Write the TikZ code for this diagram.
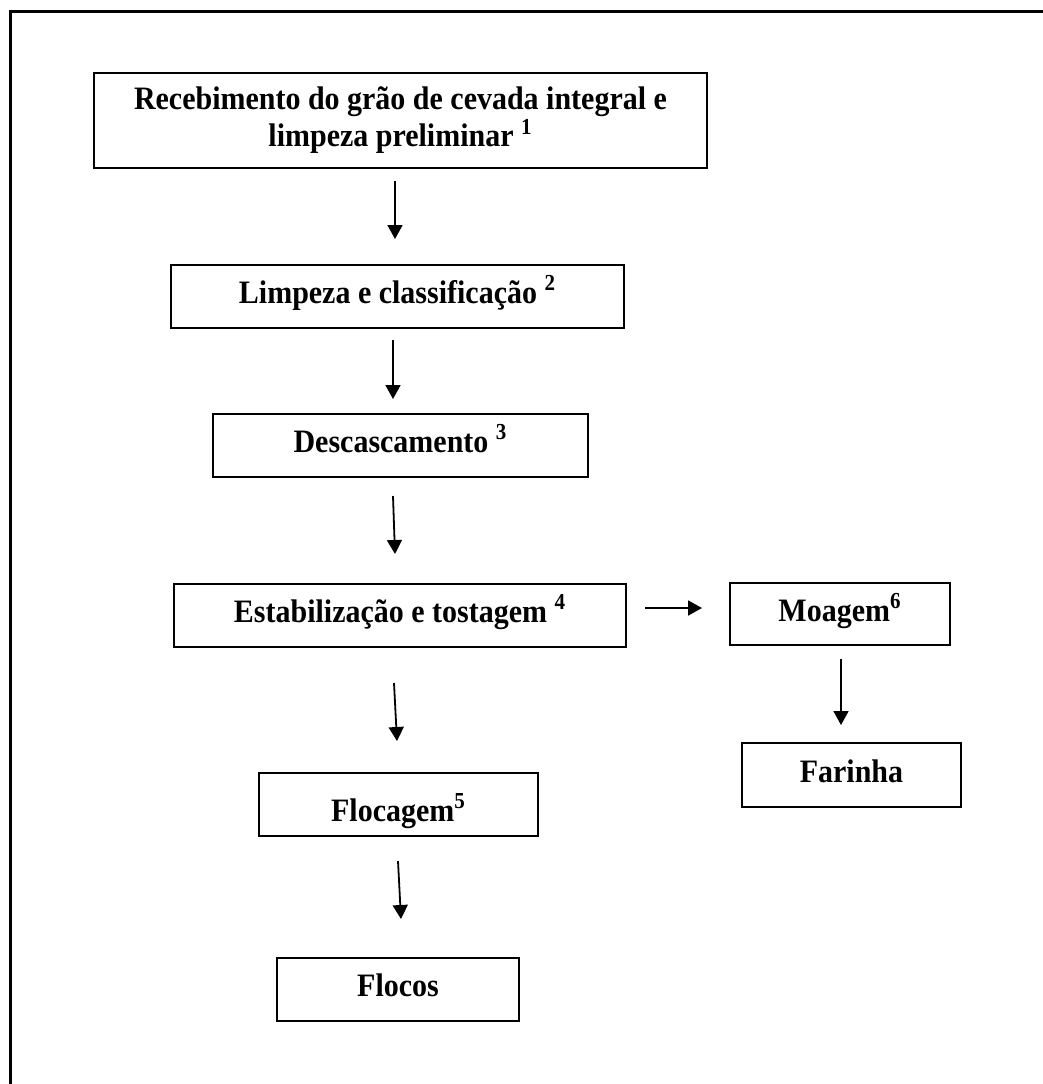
\documentclass[tikz,border=0pt]{standalone}
\usepackage{fontspec}
\setmainfont{Liberation Serif}[FakeStretch=0.917]
\usetikzlibrary{arrows.meta}
\tikzset{
  stepbox/.style={draw, line width=1pt, inner sep=0pt, align=center,
    font=\bfseries\fontsize{16.35}{16.5}\selectfont},
  stepline/.style={stepbox, text height=10.5pt, text depth=3.5pt},
  flow/.style={line width=0.9pt, -{Triangle[length=7pt,width=7.5pt]}},
}
\begin{document}
\begin{tikzpicture}[x=0.5pt, y=-0.5pt]
    \useasboundingbox (0,0) rectangle (1043,1084);
    \draw[line width=1.5pt] (1043,11) -- (10,11) -- (10,1084);
    % main line
    \node[stepbox, minimum width=306.5pt, minimum height=47.5pt] (rec) at (400.5,120.5)
        {Recebimento do grão de cevada integral e\\limpeza preliminar \textsuperscript{1}};
    \node[stepline, minimum width=226.5pt, minimum height=31.5pt] (limp) at (397.5,296.5)
        {Limpeza e classificação \textsuperscript{2}};
    \node[stepline, minimum width=187.5pt, minimum height=31.5pt] (desc) at (400.5,445.5)
        {Descascamento \textsuperscript{3}};
    \node[stepline, minimum width=226pt, minimum height=31.5pt] (est) at (400,615.5)
        {Estabilização e tostagem \textsuperscript{4}};
    \node[stepline, text height=20.5pt, minimum width=139.5pt, minimum height=31.5pt] (floc) at (398.5,804.5)
        {Flocagem\textsuperscript{5}};
    \node[stepline, minimum width=121pt, minimum height=31.5pt] (flocos) at (398,989.5) {Flocos};
    % side branch
    \node[stepline, minimum width=110pt, minimum height=31pt] (moa) at (840,614) {Moagem\textsuperscript{6}};
    \node[stepline, minimum width=109.5pt, minimum height=32pt] (far) at (851.5,775) {Farinha};
    \draw[flow] ([xshift=-2.75pt,yshift=-6pt]rec.south) -- ([xshift=-1.25pt,yshift=12.5pt]limp.north);
    \draw[flow] ([xshift=-2.25pt,yshift=-5.5pt]limp.south) -- ([xshift=-3.75pt,yshift=7pt]desc.north);
    \draw[flow] ([xshift=-3.75pt,yshift=-9pt]desc.south) -- ([xshift=-2.5pt,yshift=14.5pt]est.north);
    \draw[flow] ([xshift=9pt,yshift=3.75pt]est.east) -- ([xshift=-13.5pt,yshift=3pt]moa.west);
    \draw[flow] ([xshift=0.5pt,yshift=-6.5pt]moa.south) -- ([xshift=-5.25pt,yshift=8.5pt]far.north);
    \draw[flow] ([xshift=-3pt,yshift=-17.5pt]est.south) -- ([xshift=-0.75pt,yshift=15.5pt]floc.north);
    \draw[flow] ([xshift=-0.25pt,yshift=-12pt]floc.south) -- ([xshift=1.5pt,yshift=19pt]flocos.north);
\end{tikzpicture}
\end{document}
